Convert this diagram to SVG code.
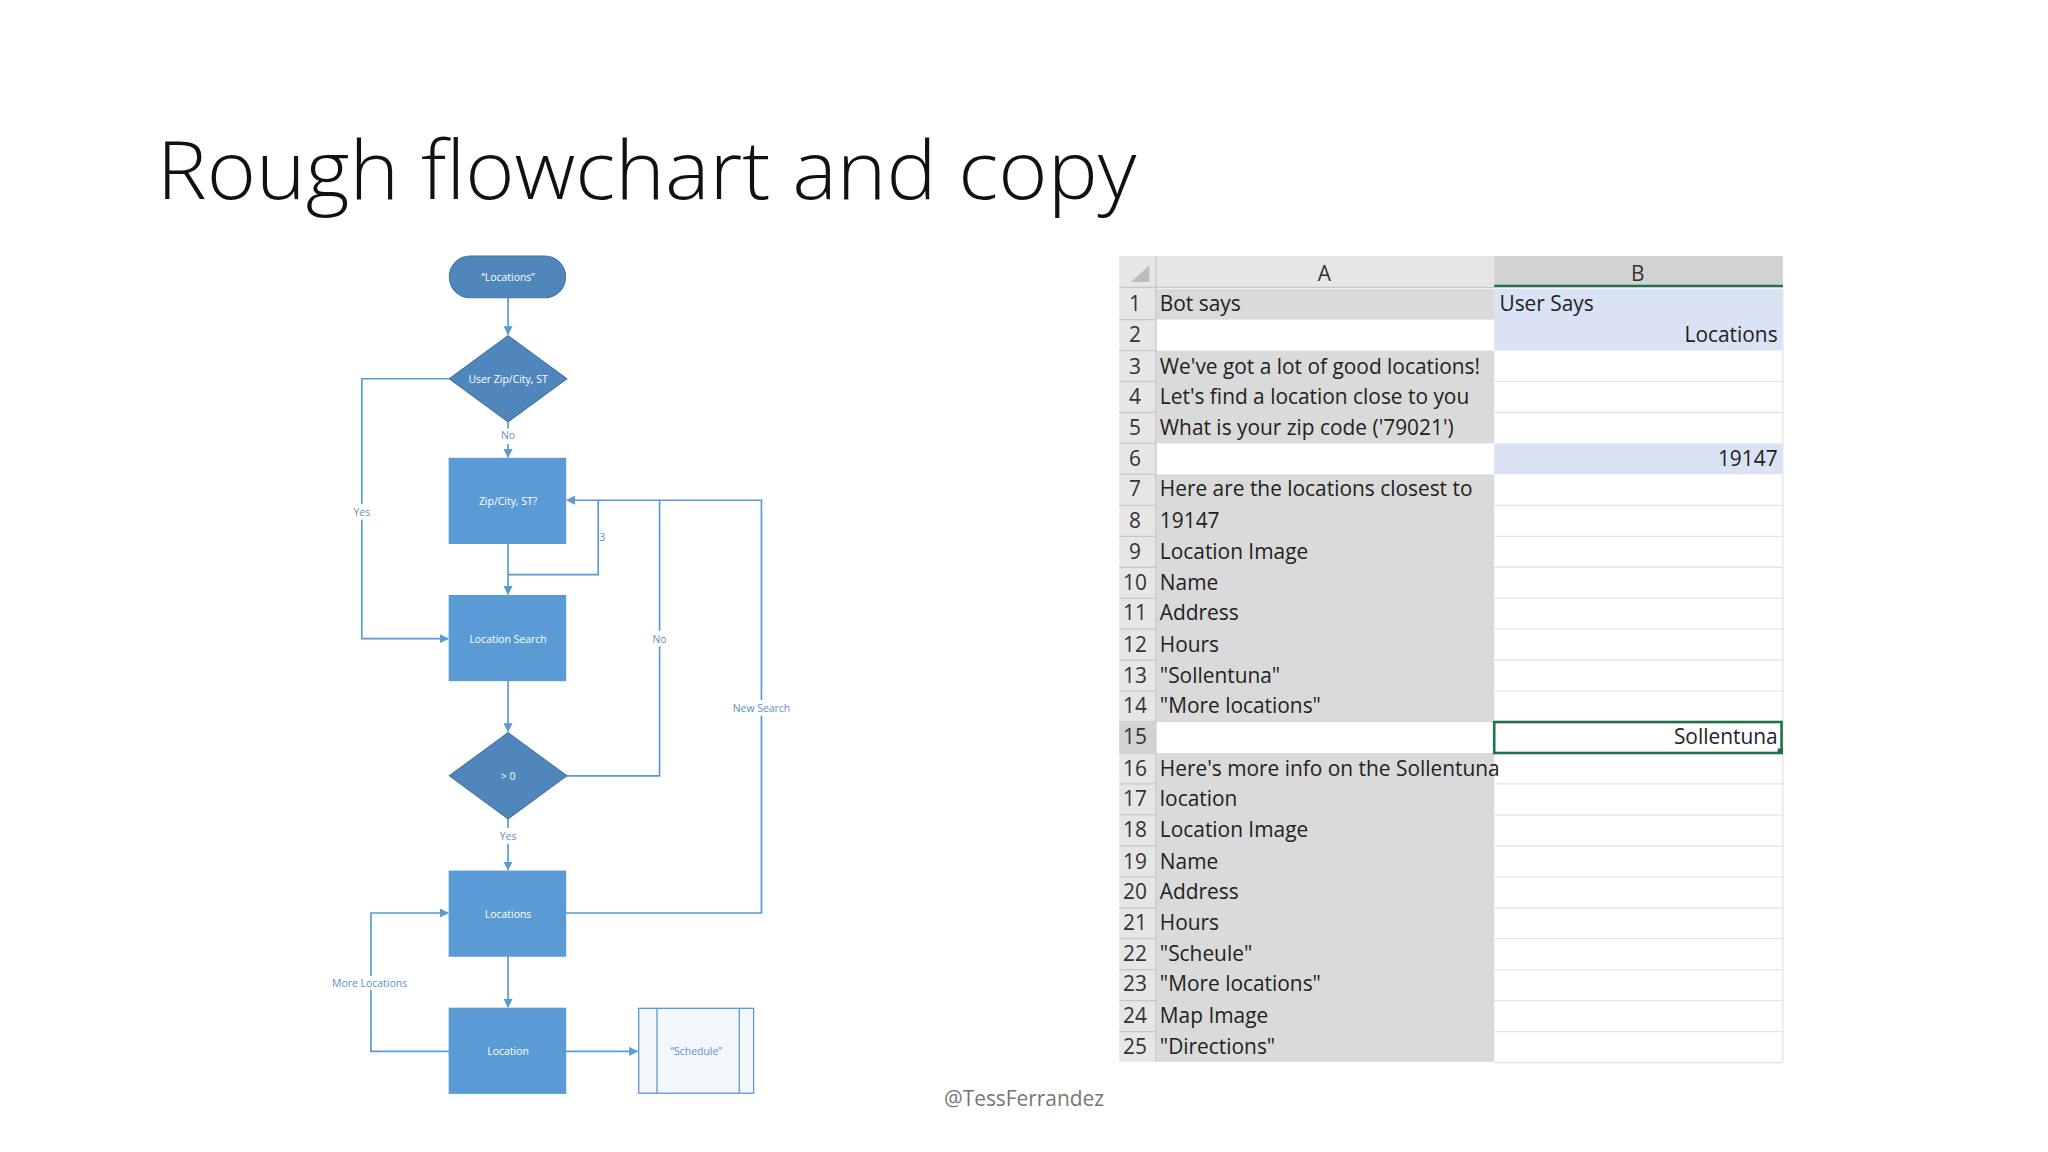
<svg xmlns="http://www.w3.org/2000/svg" width="2048" height="1152" viewBox="0 0 2048 1152">
<style>
.box{fill:#5b9bd5;stroke:#5b9bd5}
.dec{fill:#4f87bd;stroke:#41719c;stroke-width:0.8}
.wt{fill:#fff;font-family:"Open Sans","Liberation Sans",sans-serif;font-size:8px;text-anchor:middle}
.lb{fill:#5b8fc7;font-family:"Open Sans","Liberation Sans",sans-serif;font-size:8px;text-anchor:middle}
.cn{fill:none;stroke:#5b9bd5;stroke-width:1.3}
.st{font-family:"Open Sans","Liberation Sans",sans-serif;font-size:16px;fill:#222}
.rn{font-family:"Open Sans","Liberation Sans",sans-serif;font-size:16px;fill:#333;text-anchor:middle}
.gl{stroke:#e4e4e4;stroke-width:1}
</style>
<defs><marker id="a" viewBox="0 0 10 10" refX="9" refY="5" markerWidth="7" markerHeight="7" markerUnits="userSpaceOnUse" orient="auto"><path d="M0,0L10,5L0,10z" fill="#5b9bd5"/></marker></defs>
<rect width="2048" height="1152" fill="#fff"/>
<g transform="scale(1.30612)">
<text x="120" y="152" font-family="'Open Sans','Liberation Sans',sans-serif" font-weight="300" font-size="62" fill="#111" textLength="750" lengthAdjust="spacingAndGlyphs">Rough flowchart and copy</text>
<g id="connectors">
<path class="cn" marker-end="url(#a)" d="M389,228V256"/>
<path class="cn" marker-end="url(#a)" d="M389,340V350"/>
<path class="cn" d="M389,323V328"/>
<path class="cn" marker-end="url(#a)" d="M389,416V455"/>
<path class="cn" marker-end="url(#a)" d="M389,440H458V383H434"/>
<path class="cn" d="M344,290H277V386"/>
<path class="cn" marker-end="url(#a)" d="M277,398V489H343"/>
<path class="cn" marker-end="url(#a)" d="M389,521V560"/>
<path class="cn" d="M433,594H505V495"/>
<path class="cn" d="M505,483V383"/>
<path class="cn" d="M389,627V634"/>
<path class="cn" marker-end="url(#a)" d="M389,646V666"/>
<path class="cn" d="M433,699H583V548"/>
<path class="cn" d="M583,536V383H458"/>
<path class="cn" marker-end="url(#a)" d="M389,732V771"/>
<path class="cn" d="M344,805H284V758"/>
<path class="cn" marker-end="url(#a)" d="M284,747V699H343"/>
<path class="cn" marker-end="url(#a)" d="M433,805H488"/>
<text class="lb" x="389" y="336">No</text>
<text class="lb" x="461" y="414">3</text>
<text class="lb" x="277" y="395">Yes</text>
<text class="lb" x="505" y="492">No</text>
<text class="lb" x="389" y="643">Yes</text>
<text class="lb" x="583" y="545">New Search</text>
<text class="lb" x="283" y="756">More Locations</text>
</g>
<g id="n1"><rect class="dec" x="344" y="196" width="89" height="32" rx="16"/><text class="wt" x="389" y="215">“Locations”</text></g>
<g id="n2"><path class="dec" d="M389,257L434,290L389,323L344,290z"/><text class="wt" x="389" y="293">User Zip/City, ST</text></g>
<g id="n3"><rect class="box" x="344" y="351" width="89" height="65"/><text class="wt" x="389" y="387">Zip/City, ST?</text></g>
<g id="n4"><rect class="box" x="344" y="456" width="89" height="65"/><text class="wt" x="389" y="492">Location Search</text></g>
<g id="n5"><path class="dec" d="M389,561L434,594L389,627L344,594z"/><text class="wt" x="389" y="597">&gt; 0</text></g>
<g id="n6"><rect class="box" x="344" y="667" width="89" height="65"/><text class="wt" x="389" y="703">Locations</text></g>
<g id="n7"><rect class="box" x="344" y="772" width="89" height="65"/><text class="wt" x="389" y="808">Location</text></g>
<g id="n8"><rect x="489" y="772" width="88" height="65" fill="#f3f7fc" stroke="#5b9bd5"/><path d="M503,772V837M566,772V837" stroke="#5b9bd5" fill="none"/><text class="lb" x="533" y="808">“Schedule”</text></g>
<g id="sheet">
<rect x="857" y="194" width="510" height="620" fill="#fff"/>
<rect x="857" y="196" width="28" height="617" fill="#e6e6e6"/>
<rect x="885" y="196" width="259" height="24" fill="#e6e6e6"/>
<rect x="1144" y="196" width="221" height="24" fill="#d2d2d2"/>
<path d="M1144,219H1365" stroke="#217346" stroke-width="2"/>
<path d="M866,216L880,203V216z" fill="#bdbdbd"/>
<text class="rn" x="1014" y="215" fill="#444">A</text>
<text class="rn" x="1254" y="215" fill="#444">B</text>
<rect x="885" y="221" width="259" height="592" fill="#dadada"/>
<rect x="885" y="244.7" width="259" height="23.7" fill="#fff"/>
<rect x="885" y="339.5" width="259" height="23.7" fill="#fff"/>
<rect x="885" y="552.8" width="259" height="23.7" fill="#fff"/>
<rect x="1144" y="221" width="221" height="47.4" fill="#dae3f3"/>
<rect x="1144" y="339.5" width="221" height="23.7" fill="#dae3f3"/>
<path class="gl" d="M1144,292H1365M1144,315.8H1365M1144,386.9H1365M1144,410.6H1365M1144,434.3H1365M1144,458H1365M1144,481.7H1365M1144,505.4H1365M1144,529.1H1365M1144,600.2H1365M1144,623.9H1365M1144,647.6H1365M1144,671.3H1365M1144,695H1365M1144,718.7H1365M1144,742.4H1365M1144,766.1H1365M1144,789.8H1365M1144,813.5H1365M1365,221V813"/>
<path d="M857,244.7H885M857,268.4H885M857,292H885M857,315.8H885M857,339.5H885M857,363.2H885M857,386.9H885M857,410.6H885M857,434.3H885M857,458H885M857,481.7H885M857,505.4H885M857,529.1H885M857,552.8H885M857,576.5H885M857,600.2H885M857,623.9H885M857,647.6H885M857,671.3H885M857,695H885M857,718.7H885M857,742.4H885M857,766.1H885M857,789.8H885M885,196V813M857,220H1144" stroke="#c8c8c8" stroke-width="1"/>
<rect x="857" y="552.8" width="28" height="23.7" fill="#d2d2d2"/>
<rect x="1144" y="552.8" width="220" height="23.7" fill="none" stroke="#217346" stroke-width="2"/>
<rect x="1361" y="573" width="4" height="4" fill="#217346"/>
<g class="rn">
<text x="869" y="238">1</text><text x="869" y="262">2</text><text x="869" y="286">3</text><text x="869" y="309">4</text><text x="869" y="333">5</text><text x="869" y="357">6</text><text x="869" y="380">7</text><text x="869" y="404">8</text><text x="869" y="428">9</text><text x="869" y="452">10</text><text x="869" y="475">11</text><text x="869" y="499">12</text><text x="869" y="523">13</text><text x="869" y="546">14</text><text x="869" y="570">15</text><text x="869" y="594">16</text><text x="869" y="617">17</text><text x="869" y="641">18</text><text x="869" y="665">19</text><text x="869" y="688">20</text><text x="869" y="712">21</text><text x="869" y="736">22</text><text x="869" y="759">23</text><text x="869" y="783">24</text><text x="869" y="807">25</text>
</g>
<g class="st">
<text x="888" y="238">Bot says</text>
<text x="1148" y="238">User Says</text>
<text x="1361" y="262" text-anchor="end">Locations</text>
<text x="888" y="286">We've got a lot of good locations!</text>
<text x="888" y="309">Let's find a location close to you</text>
<text x="888" y="333">What is your zip code ('79021')</text>
<text x="1361" y="357" text-anchor="end">19147</text>
<text x="888" y="380">Here are the locations closest to</text>
<text x="888" y="404">19147</text>
<text x="888" y="428">Location Image</text>
<text x="888" y="452">Name</text>
<text x="888" y="475">Address</text>
<text x="888" y="499">Hours</text>
<text x="888" y="523">"Sollentuna"</text>
<text x="888" y="546">"More locations"</text>
<text x="1361" y="570" text-anchor="end">Sollentuna</text>
<text x="888" y="594">Here's more info on the Sollentuna</text>
<text x="888" y="617">location</text>
<text x="888" y="641">Location Image</text>
<text x="888" y="665">Name</text>
<text x="888" y="688">Address</text>
<text x="888" y="712">Hours</text>
<text x="888" y="736">"Scheule"</text>
<text x="888" y="759">"More locations"</text>
<text x="888" y="783">Map Image</text>
<text x="888" y="807">"Directions"</text>
</g>
</g>
<text x="784" y="847" font-family="'Open Sans','Liberation Sans',sans-serif" font-size="16" fill="#777" text-anchor="middle">@TessFerrandez</text>
</g>
</svg>
